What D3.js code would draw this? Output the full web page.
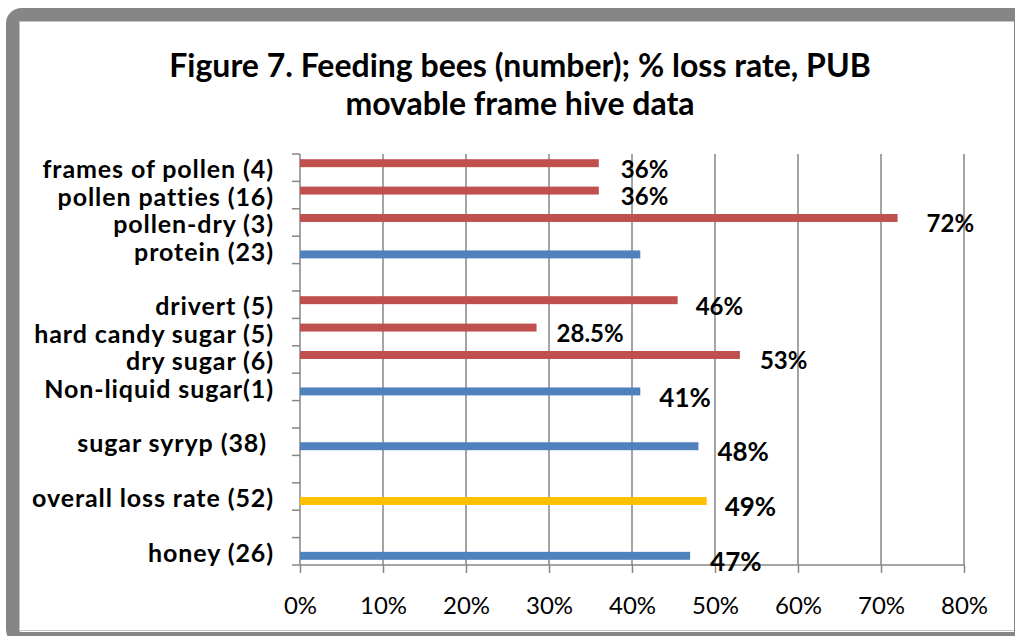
<!DOCTYPE html>
<html>
<head>
<meta charset="utf-8">
<script src="https://cdn.jsdelivr.net/npm/d3@7"></script>
<style>
  body { margin: 0; background: #fff; }
  svg { display: block; font-family: Lato, "Open Sans", sans-serif; }
</style>
</head>
<body>
<div id="chart"></div>
<script>
// categories top to bottom, blank slots are the gaps in the original
var categories = ['frames of pollen (4)', 'pollen patties (16)', 'pollen-dry (3)', 'protein (23)', '',
    'drivert (5)', 'hard candy sugar (5)', 'dry sugar (6)', 'Non-liquid sugar(1)', '',
    'sugar syryp (38) ', '', 'overall loss rate (52)', '', 'honey (26)']
// % loss rate
var lossRate = [36, 36, 72, 41, null, 45.5, 28.5, 53, 41, null, 48, null, 49, null, 47]
// which series the bar belongs to (red = detail, blue = main, overall = yellow point)
var seriesOf = ['detail', 'detail', 'detail', 'main', null, 'detail', 'detail', 'detail', 'main', null,
    'main', null, 'overall', null, 'main']
var dataLabels = ['36%', '36%', '72%', null, null, '46%', '28.5%', '53%', '41%', null, '48%', null, '49%', null, '47%']
var xTicks = [0, 10, 20, 30, 40, 50, 60, 70, 80]

var colors = { detail: '#C0504D', main: '#4F81BD', overall: '#FFC000' }
// manual label placement in the original is a bit uneven
var labelGap = [22, 22, 29, 0, 0, 18, 20, 20, 19, 0, 19, 0, 18, 0, 20]

var W = 1016, H = 636
var svg = d3.select('#chart').append('svg')
    .attr('width', W)
    .attr('height', H)

// frame
svg.append('defs').append('clipPath').attr('id', 'clipR')
    .append('rect').attr('x', 0).attr('y', 0).attr('width', 1015).attr('height', H)
svg.append('rect')
    .attr('x', 19).attr('y', 21).attr('width', 996).attr('height', 610)
    .style('fill', '#fff')
svg.append('rect')
    .attr('clip-path', 'url(#clipR)')
    .attr('x', 12.5).attr('y', 14.5).attr('width', 1040).attr('height', 624)
    .attr('rx', 9)
    .style('fill', 'none')
    .style('stroke', '#868686')
    .style('stroke-width', 13)
svg.append('rect')
    .attr('clip-path', 'url(#clipR)')
    .attr('x', 19.5).attr('y', 21.5).attr('width', 1020).attr('height', 609)
    .style('fill', 'none')
    .style('stroke', '#c4c4c4')
    .style('stroke-width', 1)
svg.append('line')
    .attr('x1', 1014.5).attr('x2', 1014.5).attr('y1', 14).attr('y2', 636)
    .style('stroke', '#868686')
    .style('stroke-width', 1)

// title
var title = svg.append('text')
    .attr('text-anchor', 'middle')
    .style('font-weight', 'bold')
    .style('font-size', '32px')
    .style('fill', '#000')
title.append('tspan').attr('x', 520).attr('y', 77).text('Figure 7. Feeding bees (number); % loss rate, PUB')
title.append('tspan').attr('x', 520).attr('y', 115).text('movable frame hive data')

// scales
var x = d3.scaleLinear().domain([0, 80]).range([300, 964])
var y = d3.scaleBand().domain(d3.range(categories.length)).range([154, 565])
var sub = d3.scaleBand().domain(['detail', 'main']).range([-8.5, 8.5]).paddingInner(0.12)
function subKey(s) { return s === 'detail' ? 'detail' : 'main' }

// gridlines
svg.append('g').selectAll('line')
    .data(xTicks.slice(1))
    .enter().append('line')
    .attr('x1', function (d) { return x(d) })
    .attr('x2', function (d) { return x(d) })
    .attr('y1', 154)
    .attr('y2', 565)
    .style('stroke', '#868686')
    .style('stroke-width', 1.5)

// x axis
var xAxis = d3.axisBottom(x)
    .tickValues(xTicks)
    .tickSize(8)
    .tickPadding(24)
    .tickFormat(function (d) { return d + '%' })
var gx = svg.append('g')
    .attr('transform', 'translate(0,565)')
    .call(xAxis)
gx.selectAll('line, path').style('stroke', '#868686').style('stroke-width', 1.5)
gx.select('.domain').attr('d', 'M300,0H964')
gx.selectAll('text')
    .style('font-family', 'Lato, sans-serif')
    .style('font-size', '24px')
    .style('fill', '#000')

// y axis: ticks on category boundaries
var gy = svg.append('g')
gy.append('line')
    .attr('x1', 300).attr('x2', 300).attr('y1', 154).attr('y2', 565)
    .style('stroke', '#868686').style('stroke-width', 1.5)
gy.selectAll('.tick')
    .data(d3.range(categories.length + 1))
    .enter().append('line')
    .attr('x1', 292).attr('x2', 300)
    .attr('y1', function (i) { return 154 + i * y.step() })
    .attr('y2', function (i) { return 154 + i * y.step() })
    .style('stroke', '#868686').style('stroke-width', 1.5)
gy.selectAll('text')
    .data(categories)
    .enter().append('text')
    .attr('x', 274)
    .attr('y', function (d, i) { return y(i) + y.bandwidth() / 2 + 2 })
    .attr('dy', '0.35em')
    .attr('text-anchor', 'end')
    .style('white-space', 'pre')
    .style('font-weight', 'bold')
    .style('font-size', '25px')
    .style('letter-spacing', '0.9px')
    .style('fill', '#000')
    .text(function (d) { return d })

// bars
var rows = d3.range(categories.length).filter(function (i) { return lossRate[i] != null })
function barMid(i) { return y(i) + y.bandwidth() / 2 + sub(subKey(seriesOf[i])) + sub.bandwidth() / 2 }

svg.append('g').selectAll('rect')
    .data(rows)
    .enter().append('rect')
    .attr('x', x(0))
    .attr('y', function (i) { return barMid(i) - sub.bandwidth() / 2 })
    .attr('width', function (i) { return x(lossRate[i]) - x(0) })
    .attr('height', sub.bandwidth())
    .style('fill', function (i) { return colors[seriesOf[i]] })

// data labels
svg.append('g').selectAll('text')
    .data(rows.filter(function (i) { return dataLabels[i] }))
    .enter().append('text')
    .attr('x', function (i) { return x(lossRate[i]) + labelGap[i] })
    .attr('y', function (i) { return barMid(i) + 6 })
    .attr('dy', '0.35em')
    .style('font-weight', 'bold')
    .style('font-size', function (i) { return seriesOf[i] === 'detail' ? '24px' : '26px' })
    .style('fill', '#000')
    .text(function (i) { return dataLabels[i] })
</script>
</body>
</html>
